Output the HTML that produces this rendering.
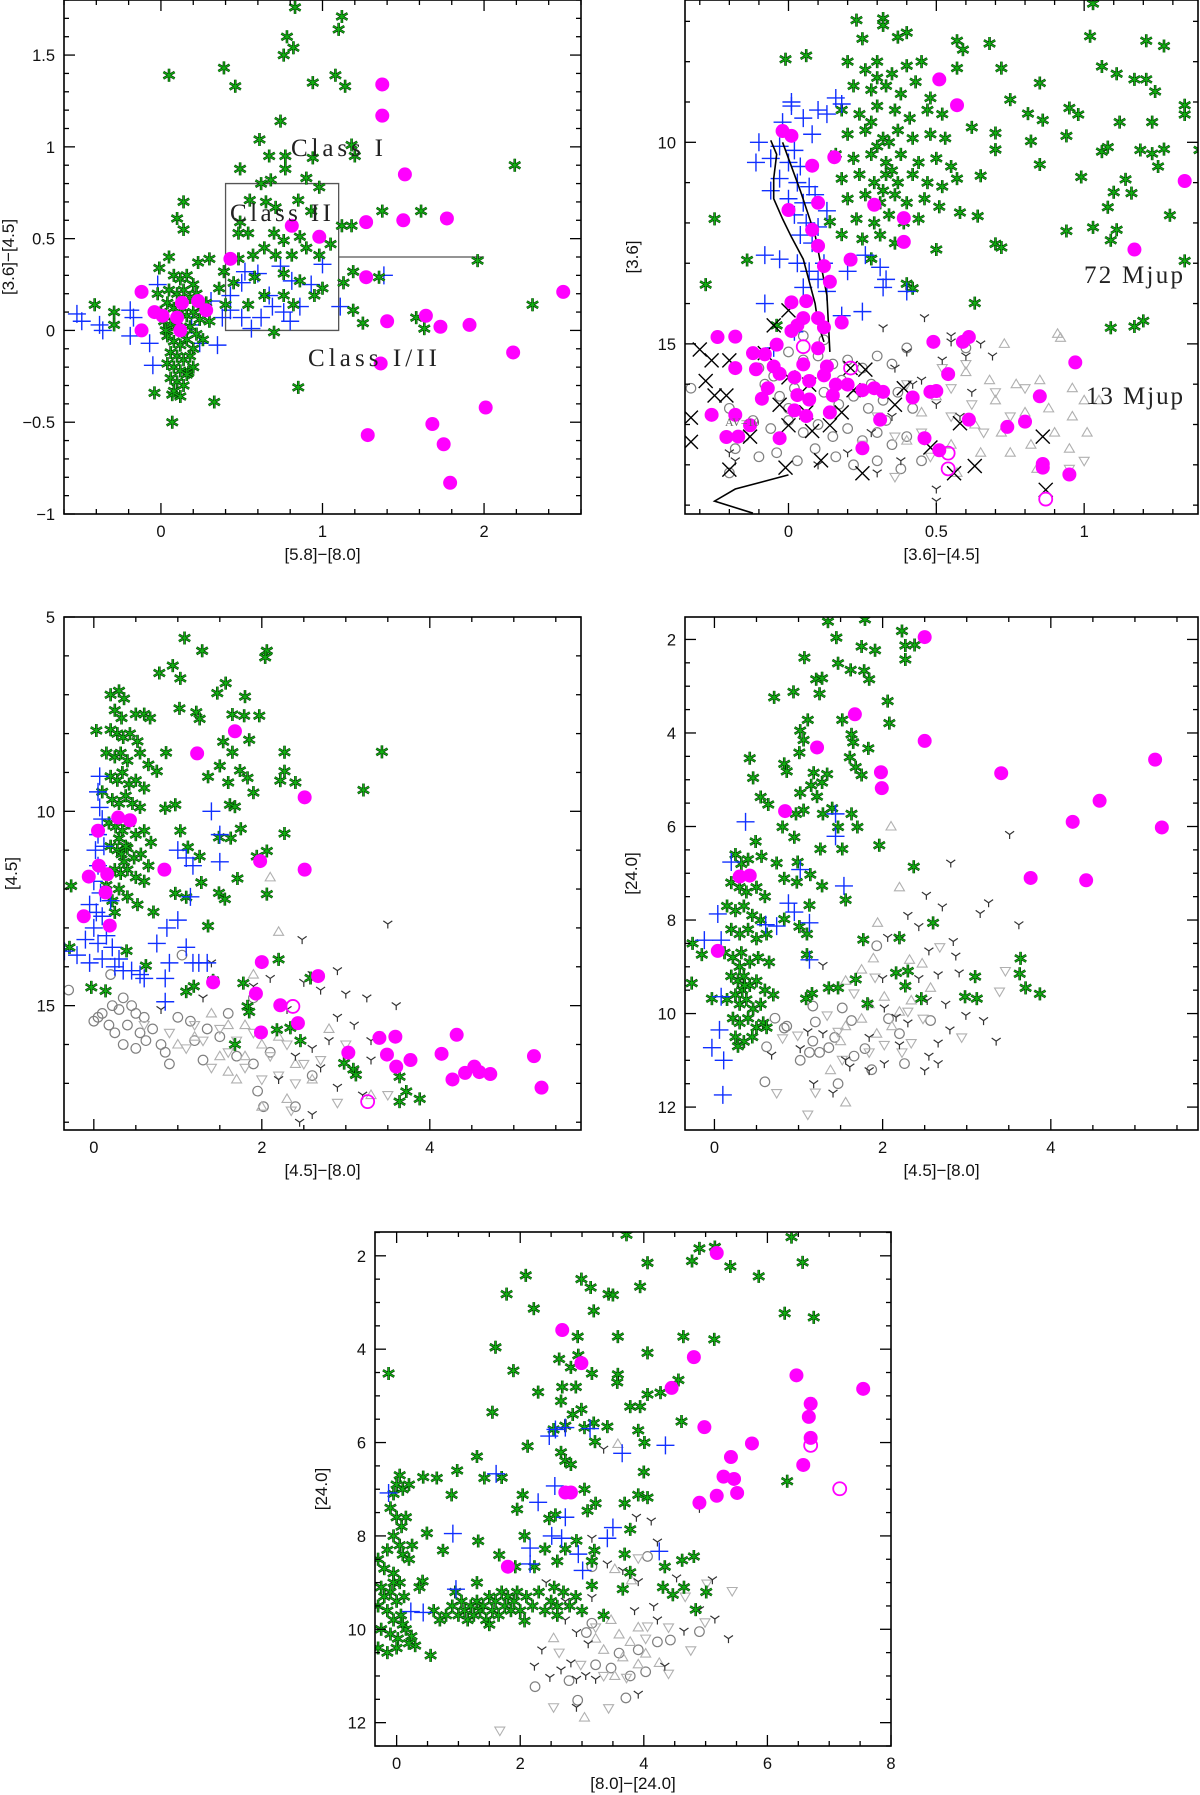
<!DOCTYPE html>
<html><head><meta charset="utf-8"><style>
html,body{margin:0;padding:0;background:#fff;}
svg{display:block;}
</style></head>
<body>
<svg id="fig" width="1200" height="1795" viewBox="0 0 1200 1795" xmlns="http://www.w3.org/2000/svg" font-family="Liberation Sans, sans-serif"></svg>
<script>
// ===== Panel 1: [5.8]-[8.0] vs [3.6]-[4.5] =====
const p1XTicks=[0,1,2];
const p1YTicks=[-1,-0.5,0,0.5,1,1.5];
const p1ClassI=[[-0.12,0.21],[-0.04,0.10],[0.01,0.08],[-0.12,0.0],[0.10,0.07],[0.13,0.15],[0.12,0.0],[0.23,0.16],[0.28,0.11],[0.43,0.39],[0.81,0.57],[0.98,0.51],[1.37,1.34],[1.37,1.17],[1.51,0.85],[1.27,0.59],[1.50,0.60],[1.77,0.61],[1.27,0.29],[1.40,0.05],[1.64,0.08],[1.73,0.02],[1.91,0.03],[2.49,0.21],[1.36,-0.18],[2.18,-0.12],[2.01,-0.42],[1.28,-0.57],[1.68,-0.51],[1.75,-0.62],[1.79,-0.83]];
const p1ClassII=[[0.83,1.76],[1.12,1.71],[1.10,1.64],[0.78,1.60],[0.76,1.50],[0.82,1.54],[0.05,1.39],[0.39,1.43],[0.46,1.33],[0.94,1.35],[1.08,1.39],[1.14,1.33],[0.74,1.14],[0.61,1.04],[0.67,0.95],[0.77,0.95],[0.49,0.88],[0.77,0.88],[0.94,0.94],[1.18,1.01],[1.20,0.95],[2.19,0.90],[0.68,0.82],[0.62,0.80],[0.90,0.83],[0.98,0.78],[0.55,0.71],[0.65,0.70],[0.85,0.71],[0.93,0.65],[0.71,0.67],[0.14,0.70],[0.10,0.61],[0.14,0.55],[0.49,0.59],[0.48,0.53],[0.54,0.53],[0.70,0.53],[0.76,0.49],[0.86,0.51],[1.05,0.47],[1.12,0.57],[1.18,0.57],[1.37,0.65],[1.61,0.65],[0.64,0.45],[0.71,0.41],[0.81,0.41],[0.90,0.45],[0.98,0.41],[0.57,0.41],[0.48,0.39],[1.96,0.38],[0.39,0.32],[0.45,0.26],[0.58,0.29],[0.76,0.31],[0.86,0.27],[1.00,0.23],[0.95,0.19],[1.19,0.32],[1.13,0.26],[1.35,0.29],[0.64,0.19],[0.76,0.19],[0.54,0.14],[0.40,0.14],[0.82,0.14],[1.19,0.11],[1.25,0.04],[1.58,0.07],[1.63,0.01],[2.30,0.14],[0.70,-0.01],[0.85,-0.31],[0.33,-0.39],[0.07,-0.50],[-0.41,0.14],[-0.29,0.10],[-0.29,0.03],[-0.01,0.34],[0.05,0.40],[0.30,0.39],[0.23,0.37],[0.36,0.23],[-0.04,-0.34],[0.07,-0.35],[0.17,-0.23],
[0.08,0.3],[0.12,0.28],[0.16,0.3],[0.2,0.25],[0.05,0.22],[0.1,0.2],[0.14,0.22],[0.18,0.18],[0.22,0.2],[0.04,0.15],[0.08,0.12],[0.12,0.1],[0.16,0.08],[0.2,0.1],[0.24,0.06],[0.02,0.05],[0.06,0.03],[0.1,0.02],[0.14,0.0],[0.18,0.02],[0.22,-0.02],[0.04,-0.03],[0.08,-0.06],[0.12,-0.08],[0.16,-0.05],[0.2,-0.1],[0.06,-0.12],[0.1,-0.14],[0.14,-0.16],[0.18,-0.14],[0.04,-0.18],[0.08,-0.2],[0.12,-0.22],[0.16,-0.24],[0.06,-0.26],[0.1,-0.28],[0.14,-0.3],[0.08,-0.33],[0.12,-0.36],[0.03,0.0],[0.25,0.12],[0.28,0.15],[0.3,0.05],[0.0,0.1],[-0.02,0.2],[0.2,-0.2],[0.26,-0.05]];
const p1Trans=[[-0.52,0.09],[-0.49,0.05],[-0.38,0.03],[-0.36,0.0],[-0.19,0.11],[-0.17,0.07],[-0.19,-0.03],[-0.07,-0.07],[-0.05,-0.19],[-0.02,0.25],[0.31,0.16],[0.35,-0.08],[0.38,0.07],[0.43,0.11],[0.50,0.07],[0.56,0.01],[0.62,0.07],[0.69,0.13],[0.76,0.10],[0.80,0.05],[0.86,0.13],[0.52,0.32],[0.60,0.31],[0.74,0.35],[0.81,0.27],[0.93,0.25],[1.0,0.36],[1.11,0.13],[1.38,0.30],[0.67,0.19],[0.19,0.03],[0.24,-0.07],[0.50,0.26],[0.43,0.19]];

// ===== Panel 2: [3.6]-[4.5] vs [3.6] =====
const p2XTicks=[0,0.5,1];
const p2YTicks=[10,15];
const p2ClassI=[[0.51,8.44],[0.57,9.08],[-0.02,9.72],[0.01,9.84],[0.155,10.37],[0.08,10.58],[1.34,10.96],[0.29,11.55],[0.10,11.5],[0.0,11.68],[0.39,11.88],[0.08,12.17],[0.39,12.47],[0.10,12.57],[0.21,12.91],[0.12,13.07],[1.17,12.66],[0.14,13.46],[0.01,13.97],[0.06,13.94],[0.05,14.36],[0.01,14.68],[0.03,14.54],[0.10,14.36],[0.12,14.59],[0.18,14.47],[-0.04,15.02],[-0.24,14.83],[-0.18,14.82],[0.10,15.11],[-0.12,15.23],[-0.08,15.26],[-0.18,15.6],[-0.11,15.63],[-0.05,15.56],[-0.03,15.74],[0.05,15.51],[0.13,15.56],[0.02,15.83],[0.07,15.92],[0.12,15.78],[0.16,16.01],[-0.07,16.1],[-0.09,16.36],[0.03,16.27],[0.07,16.38],[0.15,16.28],[0.2,16.01],[0.25,16.15],[0.29,16.1],[0.32,16.19],[0.42,16.33],[0.48,16.19],[0.50,16.17],[0.49,14.95],[0.59,14.95],[0.61,14.83],[0.54,15.75],[0.97,15.46],[0.85,16.3],[-0.26,16.76],[-0.18,16.76],[0.02,16.65],[0.06,16.79],[0.14,16.7],[0.31,16.88],[0.61,16.88],[0.74,17.06],[0.80,16.93],[-0.21,17.31],[-0.17,17.3],[-0.13,17.02],[-0.03,17.34],[0.25,17.59],[0.46,17.34],[0.51,17.64],[0.86,17.98],[0.86,18.07],[0.95,18.24]];
const p2ClassIOpen=[[0.05,15.07],[0.21,15.6],[0.54,17.71],[0.54,18.1],[0.87,18.85]];
const p2ClassII=[[0.23,6.97],[0.32,6.93],[0.32,7.1],[-0.01,7.94],[0.06,7.85],[0.25,7.43],[0.37,7.39],[0.40,7.28],[0.57,7.48],[0.68,7.55],[0.59,7.7],[0.72,8.16],[0.57,8.16],[1.03,6.56],[1.02,7.37],[1.21,7.48],[1.27,7.61],[1.06,8.12],[1.11,8.3],[1.17,8.44],[1.21,8.44],[1.24,8.74],[0.85,8.53],[0.75,8.94],[0.81,9.29],[0.86,9.45],[0.95,9.15],[0.98,9.31],[0.94,9.84],[0.82,9.97],[0.85,10.55],[1.06,10.23],[1.08,10.12],[1.12,9.5],[1.23,9.5],[1.19,10.19],[1.23,10.28],[1.25,10.6],[1.27,10.17],[1.34,9.08],[1.34,9.31],[1.39,10.19],[0.99,10.86],[1.14,10.92],[1.10,11.24],[1.16,11.26],[1.08,11.61],[1.29,11.81],[0.94,12.2],[1.03,12.11],[1.11,12.17],[1.09,12.43],[1.34,12.94],[0.70,9.77],[0.70,10.18],[0.62,9.63],[0.65,10.83],[0.58,11.74],[0.64,11.83],[0.70,12.52],[0.72,12.61],[0.50,12.66],[0.40,13.51],[0.42,13.62],[0.63,13.99],[1.09,14.6],[1.17,14.57],[1.20,14.43],[-0.25,11.9],[-0.14,12.92],[-0.28,13.53],[0.14,11.97],[0.18,12.29],[0.28,12.89],[-0.04,14.54],
[0.2,8.0],[0.26,8.2],[0.3,8.0],[0.35,8.3],[0.4,8.1],[0.45,8.0],[0.22,8.6],[0.28,8.7],[0.33,8.6],[0.38,8.8],[0.43,8.5],[0.48,8.9],[0.18,9.2],[0.24,9.3],[0.3,9.1],[0.36,9.2],[0.41,9.4],[0.47,9.2],[0.52,9.3],[0.2,9.8],[0.26,9.7],[0.32,9.9],[0.37,9.7],[0.42,9.9],[0.48,9.8],[0.53,9.9],[0.16,10.3],[0.22,10.4],[0.28,10.3],[0.33,10.5],[0.38,10.3],[0.44,10.5],[0.5,10.4],[0.55,10.6],[0.18,10.9],[0.24,10.8],[0.29,11.0],[0.33,10.8],[0.37,11.0],[0.42,10.8],[0.47,11.0],[0.52,11.1],[0.57,10.9],[0.2,11.4],[0.26,11.3],[0.31,11.5],[0.36,11.3],[0.4,11.5],[0.46,11.4],[0.51,11.6],[0.23,11.9],[0.29,12.0],[0.34,11.8],[0.39,12.0],[0.44,11.9],[0.25,12.4],[0.31,12.3],[0.36,12.5],[0.3,10.1],[0.34,10.0],[0.28,9.5],[0.35,10.7],[0.32,11.2],[0.3,8.4]];
const p2Trans=[[0.16,8.9],[0.18,9.05],[0.01,9.1],[0.1,9.2],[0.13,9.3],[-0.02,9.5],[0.05,9.4],[0.08,9.8],[-0.1,10.0],[-0.03,10.1],[0.02,10.2],[-0.06,10.4],[0.0,10.5],[0.04,10.6],[-0.11,10.5],[-0.03,10.9],[0.03,11.0],[0.07,11.1],[-0.06,11.2],[0.0,11.4],[0.05,11.5],[0.09,11.3],[0.13,11.7],[0.02,11.8],[0.06,12.0],[0.1,12.1],[0.04,12.3],[0.08,12.5],[-0.08,12.8],[-0.03,12.9],[0.03,13.0],[0.07,13.2],[0.1,13.4],[0.05,13.6],[0.13,13.7],[0.2,13.2],[0.26,12.8],[0.31,13.1],[0.33,13.4],[0.32,13.6],[0.4,13.7],[0.18,14.3],[0.25,14.2],[-0.08,14.0],[-0.05,15.1],[0.02,14.7],[0.12,13.0],[0.01,9.0]];
const p2Cross=[[-0.3,15.14],[-0.26,15.41],[-0.2,15.41],[-0.05,14.54],[0.0,14.17],[-0.08,15.23],[-0.28,15.92],[-0.25,16.28],[-0.21,16.28],[-0.33,16.83],[-0.33,17.43],[-0.2,18.12],[-0.13,17.3],[0.0,15.83],[0.07,16.01],[-0.03,16.51],[0.0,17.02],[0.06,16.7],[0.08,17.16],[0.14,17.02],[0.11,17.89],[-0.01,18.07],[0.21,15.6],[0.26,15.64],[0.22,16.15],[0.18,16.7],[0.25,18.21],[0.36,16.51],[0.39,16.1],[0.48,17.57],[0.56,18.21],[0.63,18.03],[0.58,16.97],[0.86,17.3],[0.87,18.62]];
const p2Circ=[[-0.33,16.1],[-0.1,15.6],[-0.05,15.8],[0.0,15.2],[0.05,15.4],[0.1,15.3],[0.15,15.5],[0.2,15.4],[0.25,15.6],[0.3,15.3],[0.35,15.5],[0.4,15.1],[-0.08,16.0],[-0.03,16.3],[0.02,16.1],[0.07,16.4],[0.12,16.2],[0.17,16.5],[0.22,16.3],[0.27,16.6],[0.32,16.4],[0.37,16.2],[0.42,16.6],[-0.12,16.9],[-0.06,17.1],[0.0,16.9],[0.05,17.2],[0.1,17.0],[0.15,17.3],[0.2,17.1],[0.25,17.4],[0.3,17.2],[0.35,17.5],[0.4,17.3],[-0.18,17.6],[-0.1,17.8],[-0.04,17.7],[0.03,17.9],[0.09,17.6],[0.16,17.8],[0.22,18.0],[0.3,17.9],[0.38,18.1],[-0.2,18.2],[0.05,14.8],[0.12,14.9],[0.18,15.9],[0.28,16.0],[0.0,16.6],[0.33,16.9],[-0.15,17.3],[0.45,17.9],[0.6,15.1],[-0.2,16.6]];
const p2TriUp=[[0.91,14.75],[0.92,14.85],[0.73,15.0],[0.6,15.7],[0.68,15.9],[0.77,16.0],[0.85,15.9],[0.96,16.1],[1.0,16.4],[1.05,16.4],[0.7,16.4],[0.8,16.7],[0.88,16.6],[0.96,16.8],[0.63,17.0],[0.72,17.2],[0.82,17.5],[0.9,17.2],[1.01,17.2],[0.55,17.5],[0.65,17.7],[0.75,17.7],[0.84,18.1],[0.95,17.6],[0.57,18.2],[0.4,17.4],[0.45,16.7],[0.5,16.3]];
const p2TriDown=[[0.52,15.6],[0.6,15.5],[0.55,16.1],[0.62,16.5],[0.7,16.2],[0.8,16.1],[0.55,16.8],[0.45,17.2],[0.36,17.3],[0.48,17.8],[0.36,18.3],[0.95,18.1],[1.0,17.9],[0.66,17.2],[0.4,16.0],[0.3,16.8],[0.25,17.5],[0.75,16.8]];
const p2Tri3=[[0.55,14.8],[0.46,14.35],[0.32,14.6],[0.55,14.95],[0.65,15.0],[0.69,15.3],[0.6,15.3],[0.52,15.4],[0.4,15.2],[0.36,15.6],[0.45,15.9],[0.5,16.5],[0.35,16.8],[0.28,17.2],[0.46,17.4],[0.38,17.9],[0.5,18.6],[0.5,18.9],[0.1,18.0],[-0.2,17.7],[-0.18,17.9],[0.58,16.8],[0.2,17.7],[0.3,18.2],[0.42,16.0],[0.62,16.2]];
const p2TrackA=[[-0.06,9.95],[-0.04,10.3],[-0.05,10.9],[-0.05,11.4],[-0.02,11.9],[0.01,12.35],[0.05,12.9],[0.07,13.45],[0.09,14.0],[0.1,14.5],[0.12,14.95]];
const p2TrackB=[[-0.02,10.0],[0.04,11.2],[0.09,12.3],[0.13,13.8],[0.14,15.2]];
const p2TrackC=[[0.0,18.25],[-0.18,18.6],[-0.25,18.9],[-0.12,19.2]];

// ===== Panel 3: [4.5]-[8.0] vs [4.5] =====
const p3XTicks=[0,2,4];
const p3YTicks=[5,10,15];
const p3ClassI=[[1.68,7.94],[1.23,8.51],[2.51,9.64],[0.29,10.16],[0.43,10.23],[0.05,10.5],[1.98,11.28],[2.51,11.5],[0.84,11.5],[0.06,11.4],[0.16,11.62],[-0.06,11.68],[0.14,12.09],[-0.12,12.7],[0.19,12.94],[2.0,13.88],[2.67,14.24],[1.42,14.4],[1.93,14.69],[2.22,14.99],[2.43,15.45],[1.99,15.69],[3.03,16.21],[3.4,15.83],[3.59,15.8],[3.49,16.26],[3.6,16.57],[3.77,16.4],[4.14,16.24],[4.32,15.75],[4.27,16.9],[4.42,16.73],[4.53,16.57],[4.59,16.71],[4.72,16.76],[5.24,16.3],[5.33,17.11]];
const p3ClassIOpen=[[2.37,15.02],[3.26,17.47]];
const p3ClassII=[[1.08,5.54],[1.29,5.87],[2.06,5.87],[2.04,6.04],[0.78,6.44],[0.94,6.25],[1.03,6.58],[1.47,6.96],[1.57,6.7],[1.8,7.05],[1.65,7.51],[1.79,7.54],[1.97,7.54],[1.02,7.35],[1.22,7.45],[1.26,7.62],[3.43,8.47],[1.85,8.16],[1.54,8.21],[1.65,8.48],[2.27,8.48],[2.27,8.97],[2.22,9.21],[2.4,9.26],[3.21,9.45],[1.5,8.83],[1.74,8.95],[1.83,9.14],[1.6,9.26],[1.36,9.11],[1.9,9.52],[2.27,10.57],[1.62,9.83],[1.68,9.88],[1.75,10.45],[1.63,10.69],[1.49,10.67],[2.06,11.02],[1.94,11.16],[1.71,11.73],[2.06,12.13],[1.49,12.1],[1.56,12.26],[1.36,12.95],[2.2,13.81],[1.19,14.5],[1.1,14.64],[1.78,14.42],[1.83,15.02],[1.85,15.16],[2.18,15.62],[2.34,15.57],[2.46,15.9],[1.68,16.0],[2.58,14.29],[2.98,16.48],[3.09,16.64],[3.12,16.78],[3.64,16.83],[3.72,17.21],[3.88,17.4],[3.64,17.47],[-0.03,14.53],[0.14,14.62],[-0.27,11.92],[-0.29,13.5],[0.03,7.92],[0.86,8.49],[0.75,8.97],[0.85,9.92],[0.97,9.83],[1.03,10.5],[1.12,10.92],[1.26,11.16],[1.28,11.83],[1.1,12.21],[0.97,12.11],[0.71,12.59],[0.39,13.59],[0.62,13.97],[1.42,14.35],
[0.2,7.0],[0.3,6.9],[0.36,7.1],[0.25,7.4],[0.33,7.6],[0.5,7.5],[0.6,7.5],[0.67,7.6],[0.2,7.9],[0.28,8.0],[0.35,8.1],[0.43,8.0],[0.52,8.2],[0.15,8.5],[0.25,8.6],[0.32,8.5],[0.4,8.7],[0.55,8.5],[0.65,8.8],[0.2,9.1],[0.28,9.2],[0.34,9.0],[0.42,9.3],[0.5,9.2],[0.6,9.4],[0.1,9.5],[0.22,9.7],[0.3,9.8],[0.38,9.6],[0.46,9.8],[0.55,9.9],[0.18,10.3],[0.26,10.4],[0.34,10.5],[0.42,10.3],[0.5,10.6],[0.6,10.5],[0.68,10.8],[0.2,10.9],[0.28,11.0],[0.33,11.1],[0.4,10.95],[0.48,11.2],[0.56,11.1],[0.65,11.4],[0.25,11.5],[0.32,11.6],[0.4,11.5],[0.5,11.7],[0.6,11.8],[0.3,12.0],[0.4,12.2],[0.52,12.4],[0.25,12.6],[0.36,11.3],[0.3,10.7],[0.38,10.9],[0.22,12.3],[0.15,11.9]];
const p3Trans=[[0.07,9.1],[0.05,9.5],[0.07,9.9],[0.1,10.2],[0.05,10.6],[0.02,11.0],[0.12,10.9],[0.05,11.4],[0.0,11.8],[0.08,12.1],[-0.05,12.4],[0.03,12.6],[0.1,12.7],[0.0,13.0],[-0.1,13.3],[0.05,13.4],[0.15,13.2],[-0.2,13.7],[-0.05,13.9],[0.1,13.8],[0.22,13.5],[0.25,14.0],[0.35,14.1],[0.45,14.1],[0.55,14.2],[0.6,14.3],[0.85,14.3],[0.9,13.9],[0.75,13.4],[0.87,13.0],[1.1,13.5],[1.18,13.9],[1.25,13.9],[1.35,13.9],[1.0,12.8],[1.15,12.2],[1.0,11.0],[1.1,11.2],[1.18,11.4],[1.5,11.3],[1.5,10.6],[1.4,10.0],[0.85,14.9],[0.2,12.3],[-0.35,13.6],[0.3,13.8]];
const p3Circ=[[-0.3,14.6],[0.1,15.2],[0.18,15.5],[0.0,15.4],[0.05,15.3],[0.22,15.0],[0.3,15.1],[0.35,14.8],[0.45,15.0],[0.5,15.2],[0.6,15.3],[0.7,15.6],[0.4,15.5],[0.25,15.7],[0.35,16.0],[0.5,16.1],[0.62,15.9],[0.8,16.0],[0.85,16.2],[1.0,15.3],[1.15,15.4],[1.2,15.9],[1.35,15.6],[1.5,15.8],[1.6,15.2],[1.7,16.3],[1.9,16.5],[2.1,16.2],[2.6,16.8],[1.95,17.2],[2.4,17.6],[0.9,16.5],[1.3,16.4],[2.02,17.6],[0.55,15.7],[1.9,14.8],[1.05,13.7],[0.2,14.2]];
const p3TriUp=[[2.1,11.7],[2.2,13.1],[1.9,14.2],[2.8,15.6],[3.3,17.3],[1.4,15.2],[1.6,15.5],[1.8,15.5],[2.0,16.0],[2.2,15.8],[2.4,16.5],[1.5,16.3],[1.7,16.9],[2.0,17.6],[2.3,17.4],[1.2,15.8],[1.0,16.0],[1.8,16.3],[2.6,16.9],[1.6,16.7]];
const p3TriDown=[[0.6,15.5],[0.9,15.7],[1.2,15.5],[1.3,15.9],[1.5,15.6],[1.7,15.9],[1.9,15.7],[2.1,16.3],[2.3,16.0],[2.5,16.5],[1.4,16.6],[1.6,16.2],[1.8,16.6],[2.0,16.9],[2.2,16.8],[2.4,17.0],[2.9,17.5],[3.5,17.3],[2.7,16.4],[3.0,16.0],[2.35,17.7],[1.1,16.1]];
const p3Tri3=[[2.6,14.2],[2.5,14.4],[2.7,14.6],[2.9,14.1],[3.0,14.7],[3.25,14.8],[3.6,15.0],[2.9,15.3],[3.1,15.5],[2.8,15.9],[2.6,16.1],[2.4,16.3],[2.7,16.6],[3.1,16.7],[2.9,17.1],[3.3,16.4],[3.2,17.3],[2.6,17.8],[2.45,18.0],[2.2,16.9],[1.9,14.5],[2.1,14.3],[1.4,13.9],[2.48,13.3],[3.5,12.9],[1.3,14.8],[0.8,15.1],[2.3,15.1],[3.3,15.9]];

// ===== Panel 4: [4.5]-[8.0] vs [24.0] =====
const p4XTicks=[0,2,4];
const p4YTicks=[2,4,6,8,10,12];
const p4ClassI=[[2.5,1.95],[1.67,3.6],[1.22,4.31],[2.5,4.17],[5.24,4.57],[1.98,4.84],[1.99,5.18],[3.41,4.86],[4.58,5.45],[0.84,5.67],[4.26,5.9],[5.32,6.02],[3.76,7.1],[4.42,7.15],[0.3,7.07],[0.42,7.05],[0.04,8.66]];
const p4ClassII=[[1.35,1.62],[1.79,1.57],[1.45,1.96],[1.07,2.39],[1.75,2.15],[1.91,2.23],[2.23,1.82],[2.27,2.13],[2.38,2.12],[2.27,2.43],[1.47,2.51],[1.62,2.65],[1.78,2.67],[1.84,2.85],[1.21,2.85],[1.28,2.83],[1.25,3.16],[0.94,3.12],[0.71,3.24],[2.06,3.32],[2.08,3.79],[1.11,3.72],[1.52,3.72],[1.02,3.95],[1.06,4.15],[1.63,4.03],[1.65,4.2],[1.83,4.33],[1.01,4.42],[1.61,4.52],[1.68,4.73],[1.75,4.9],[0.42,4.54],[0.83,4.66],[0.86,4.82],[0.46,4.96],[1.18,4.85],[1.28,5.06],[1.34,4.88],[1.15,5.12],[1.02,5.28],[1.22,5.36],[0.55,5.37],[0.64,5.53],[1.06,5.65],[0.97,5.73],[1.29,5.73],[1.4,5.61],[1.63,5.73],[1.7,6.01],[1.47,6.01],[1.52,6.48],[1.96,6.4],[2.37,6.86],[0.81,6.01],[0.95,6.23],[1.26,6.48],[0.49,6.32],[0.56,6.64],[0.74,6.78],[0.99,6.76],[1.14,7.03],[0.83,7.11],[0.98,7.19],[1.28,7.27],[1.56,7.57],[1.13,7.68],[1.01,8.14],[0.83,7.98],[1.1,8.3],[1.1,8.74],[1.77,8.42],[2.2,8.38],[2.6,8.06],[2.16,9.13],[2.3,9.09],[2.27,9.41],[2.46,9.68],[1.68,9.27],[1.82,9.79],[1.36,9.45],[1.47,9.45],[1.16,9.57],[1.09,9.68],[3.1,9.21],[2.98,9.64],[3.12,9.68],[3.64,8.82],[3.63,9.15],[3.7,9.45],[3.87,9.58],[-0.26,8.5],[-0.15,8.74],[-0.27,9.35],[-0.03,9.68],
[0.25,6.6],[0.32,6.8],[0.4,6.7],[0.2,7.2],[0.3,7.3],[0.38,7.4],[0.5,7.3],[0.6,7.5],[0.15,7.7],[0.25,7.8],[0.35,7.7],[0.45,7.9],[0.55,8.0],[0.2,8.2],[0.3,8.3],[0.4,8.2],[0.5,8.4],[0.62,8.3],[0.12,8.7],[0.22,8.8],[0.32,8.7],[0.42,8.9],[0.52,8.8],[0.65,8.9],[0.2,9.2],[0.28,9.3],[0.35,9.2],[0.42,9.4],[0.5,9.3],[0.6,9.5],[0.7,9.6],[0.25,9.6],[0.3,9.8],[0.38,9.7],[0.46,9.9],[0.55,9.8],[0.15,9.7],[0.22,10.1],[0.3,10.2],[0.4,10.1],[0.5,10.3],[0.58,10.2],[0.25,10.5],[0.35,10.6],[0.45,10.5],[0.33,9.5],[0.36,9.4],[0.3,9.0],[0.28,10.7],[0.62,10.3]];
const p4Trans=[[0.37,5.9],[0.2,6.76],[1.02,6.92],[1.54,7.27],[1.44,6.21],[1.44,5.73],[0.88,7.64],[0.95,7.83],[0.61,8.1],[0.74,8.13],[1.13,8.06],[-0.12,8.43],[0.08,8.43],[1.13,8.85],[0.06,10.35],[-0.03,10.73],[0.11,11.0],[0.1,11.74],[0.04,7.87],[0.08,9.64]];
const p4Circ=[[1.93,8.55],[0.72,10.1],[0.83,10.31],[0.86,10.27],[0.62,10.71],[1.17,9.84],[1.2,10.18],[1.17,10.59],[1.13,10.83],[1.25,10.83],[1.36,10.73],[1.02,11.0],[0.6,11.46],[1.47,11.5],[1.43,10.51],[1.52,9.88],[1.63,10.15],[1.79,10.75],[1.87,11.2],[2.26,11.07],[2.57,10.15],[2.07,10.11],[1.66,10.91],[2.2,10.43]];
const p4TriUp=[[2.1,6.0],[2.2,7.3],[1.94,8.06],[1.89,8.82],[1.75,9.06],[1.56,9.3],[2.02,9.64],[2.32,8.85],[2.47,8.93],[2.57,9.45],[2.2,9.96],[2.34,9.72],[1.56,10.27],[1.75,10.11],[1.93,10.43],[2.11,10.27],[1.38,11.21],[1.56,11.9],[1.5,10.59],[1.84,9.8]];
const p4TriDown=[[2.68,8.58],[1.91,9.23],[1.66,9.57],[3.39,9.53],[3.46,9.09],[2.94,10.51],[0.81,10.53],[0.99,10.47],[1.34,10.04],[1.47,10.39],[1.52,10.99],[1.84,10.83],[2.02,10.67],[2.23,10.83],[2.34,10.63],[1.11,12.16],[0.74,11.7],[1.2,11.69],[2.3,9.96],[2.48,10.11]];
const p4Tri3=[[3.51,6.17],[2.81,6.78],[2.52,7.47],[2.71,7.72],[2.3,7.9],[3.16,7.86],[3.26,7.63],[3.62,8.1],[2.06,8.37],[2.2,8.42],[2.43,8.14],[2.55,8.66],[2.84,8.46],[2.87,8.77],[2.91,9.13],[2.66,9.17],[2.43,9.25],[1.29,8.97],[2.0,9.25],[2.02,9.88],[2.16,10.08],[2.3,10.2],[2.53,9.72],[2.75,9.8],[2.99,10.04],[3.2,10.15],[2.8,10.35],[2.66,10.63],[2.55,10.91],[2.5,11.22],[2.66,11.07],[2.2,10.67],[2.02,11.07],[1.84,10.51],[1.56,10.99],[1.29,10.43],[1.11,10.39],[1.02,10.75],[0.68,10.89],[1.18,11.5],[1.41,11.7],[3.35,10.59],[1.84,11.22],[1.61,11.14]];

// ===== Panel 5: [8.0]-[24.0] vs [24.0] =====
const p5XTicks=[0,2,4,6,8];
const p5YTicks=[2,4,6,8,10,12];
const p5ClassI=[[5.18,1.94],[2.68,3.59],[2.99,4.3],[4.81,4.17],[4.45,4.83],[6.47,4.56],[7.55,4.85],[6.7,5.17],[6.67,5.45],[4.98,5.67],[6.7,5.9],[5.75,6.02],[5.41,6.31],[6.58,6.48],[5.29,6.73],[5.46,6.78],[5.18,7.14],[5.51,7.08],[4.9,7.29],[2.73,7.07],[2.82,7.07],[1.8,8.66]];
const p5ClassIOpen=[[6.7,6.06],[7.17,6.99]];
const p5ClassII=[[-0.13,4.52],[2.09,2.42],[1.78,2.82],[2.22,3.13],[2.99,2.5],[3.14,2.68],[3.19,3.18],[3.43,2.82],[3.5,2.84],[3.94,2.66],[4.06,2.15],[3.72,1.55],[4.9,1.84],[4.78,2.11],[5.15,1.81],[5.4,2.23],[5.86,2.44],[6.39,1.6],[6.57,2.14],[6.28,3.23],[6.75,3.32],[6.32,6.83],[1.6,3.96],[1.89,4.46],[2.93,3.73],[3.58,3.73],[4.64,3.73],[5.14,3.79],[4.06,4.08],[2.63,4.21],[2.94,4.13],[3.16,4.52],[2.82,4.39],[3.58,4.54],[3.57,4.71],[4.56,4.66],[2.29,4.92],[2.68,4.81],[2.9,4.81],[2.66,5.11],[4.06,4.97],[4.27,4.93],[3.78,5.23],[3.94,5.23],[2.99,5.29],[2.85,5.4],[2.73,5.64],[3.04,5.68],[3.19,5.58],[3.41,5.66],[2.54,5.72],[4.61,5.55],[1.55,5.35],[3.91,5.74],[4.01,6.0],[3.21,5.98],[2.12,6.08],[2.66,6.21],[2.73,6.39],[2.82,6.47],[4.0,6.63],[1.3,6.3],[0.98,6.6],[0.65,6.76],[0.43,6.74],[1.42,6.76],[1.7,6.75],[2.04,7.12],[1.95,7.43],[0.89,7.12],[3.04,7.0],[3.22,7.3],[3.09,7.46],[3.69,7.3],[3.91,7.12],[4.06,7.18],[2.47,7.63],[2.57,7.55],[2.91,8.1],[3.78,7.86],[2.07,8.0],[0.49,7.94],[0.75,8.31],[1.32,8.11],[1.66,8.41],[1.92,8.66],[2.23,8.66],[2.4,8.28],[2.6,8.54],[2.73,8.28],[3.2,8.31],[3.16,8.54],[3.69,8.39],[4.34,8.66],[4.62,8.52],[4.81,8.44],[3.78,8.78],[0.42,8.97],[0.37,9.1],[3.16,9.06],[3.66,9.14],[4.31,9.1],[4.65,9.1],[5.01,9.2],[4.84,9.58],[4.47,9.26],[3.35,9.7],[2.6,9.51],[2.07,9.82],[0.55,10.56],[0.24,10.15],[0.3,10.35],
[0.6,9.6],[0.7,9.8],[0.8,9.7],[0.9,9.5],[1.0,9.7],[1.05,9.4],[1.1,9.6],[1.15,9.8],[1.2,9.5],[1.25,9.7],[1.3,9.4],[1.35,9.6],[1.4,9.5],[1.45,9.8],[1.5,9.3],[1.55,9.6],[1.6,9.4],[1.65,9.7],[1.7,9.2],[1.75,9.5],[1.8,9.3],[1.85,9.6],[1.9,9.4],[1.95,9.2],[2.0,9.6],[2.1,9.3],[2.2,9.5],[2.3,9.2],[2.4,9.6],[2.5,9.4],[2.6,9.7],[2.7,9.2],[2.8,9.5],[2.9,9.3],[3.0,9.6],[1.3,9.0],[0.95,9.2],[1.5,9.9],[2.55,9.1],
[0.05,6.7],[0.0,6.9],[-0.05,7.1],[0.1,7.0],[0.2,6.9],[-0.1,7.4],[0.0,7.6],[0.08,7.8],[0.15,7.6],[-0.05,8.0],[0.05,8.2],[-0.15,8.3],[0.1,8.4],[0.2,8.5],[-0.2,8.7],[-0.05,8.8],[0.05,9.0],[-0.25,9.1],[-0.1,9.2],[0.0,9.4],[0.12,9.3],[-0.3,9.5],[-0.15,9.6],[-0.05,9.8],[0.07,9.7],[-0.25,10.0],[-0.1,10.1],[0.02,10.2],[0.15,10.0],[-0.3,10.4],[-0.15,10.5],[0.0,10.4],[0.2,10.3],[-0.2,9.3],[-0.3,8.5],[0.25,8.2],[-0.05,9.0],[0.1,9.9]];
const p5Trans=[[-0.13,7.08],[0.23,9.62],[0.43,9.64],[0.91,7.95],[1.61,6.67],[2.29,7.28],[2.47,5.86],[2.57,5.72],[2.73,5.68],[3.13,5.7],[2.56,6.93],[2.73,7.6],[2.16,8.26],[2.16,8.6],[2.51,8.0],[2.67,8.05],[2.94,8.39],[3.01,8.74],[3.41,8.05],[3.5,7.82],[3.65,6.23],[4.35,6.06],[4.25,8.33],[0.96,9.14]];
const p5Circ=[[2.24,11.23],[2.79,11.1],[2.93,11.52],[3.71,11.47],[3.16,9.87],[3.47,10.83],[3.78,11.0],[4.06,8.44],[4.22,10.27],[4.43,10.23],[4.9,10.05],[3.07,10.07],[3.22,10.76],[3.16,8.66],[3.91,10.44],[4.03,10.91],[3.6,10.51]];
const p5TriUp=[[3.58,6.03],[3.53,8.71],[3.8,8.95],[3.04,11.89],[2.54,10.19],[3.47,9.8],[3.6,10.11],[3.78,10.27],[3.91,9.96],[3.35,10.44],[3.66,10.6],[3.91,10.75],[4.03,10.52],[4.25,10.72],[3.22,10.2],[3.53,11.0]];
const p5TriDown=[[1.67,12.17],[2.54,11.67],[3.43,11.69],[2.63,10.5],[2.98,10.76],[3.91,8.48],[5.43,9.18],[5.02,9.02],[4.99,9.85],[4.67,9.3],[4.4,10.95],[4.76,10.45],[4.4,9.96],[4.06,9.94],[4.03,10.2],[3.22,9.96],[3.72,11.04],[3.35,11.0]];
const p5Tri3=[[3.35,6.14],[3.88,7.6],[4.12,7.68],[3.16,8.05],[4.22,8.13],[3.41,8.6],[3.66,8.74],[3.91,8.98],[4.53,8.9],[5.11,8.94],[2.42,9.0],[2.73,9.4],[3.16,9.32],[2.73,9.8],[2.91,10.07],[3.1,10.31],[2.82,10.72],[2.66,10.87],[2.35,10.44],[2.23,10.79],[2.48,11.03],[2.91,11.07],[3.06,10.99],[3.22,11.07],[3.91,11.39],[2.91,11.67],[5.37,10.2],[4.65,10.04],[4.34,10.79],[4.9,9.58],[5.15,9.78],[4.16,9.51],[3.85,9.6],[4.9,7.41],[4.22,9.8]];

// ===== drawing =====
const NS='http://www.w3.org/2000/svg';
const svg=document.getElementById('fig');
function el(tag,attrs,parent){const e=document.createElementNS(NS,tag);for(const k in attrs)e.setAttribute(k,attrs[k]);(parent||svg).appendChild(e);return e;}
function fmt(v){return (v<0?'\u2212':'')+String(Math.abs(v));}

function makePanel(id,c){
  const g=el('g',{});
  
  
  const sx=v=>c.x0+(v-c.xmin)/(c.xmax-c.xmin)*(c.x1-c.x0);
  const sy=c.invert? (v=>c.y0+(v-c.ymin)/(c.ymax-c.ymin)*(c.y1-c.y0)) : (v=>c.y1-(v-c.ymin)/(c.ymax-c.ymin)*(c.y1-c.y0));
  const clip=el('clipPath',{id:'clip-'+id},g);
  el('rect',{x:c.x0,y:c.y0,width:c.x1-c.x0,height:c.y1-c.y0},clip);
  const plot=el('g',{'clip-path':'url(#clip-'+id+')'},g);
  
  
  return {g,plot,sx,sy,c};
}
function drawAxes(P,xTicks,yTicks,xTitle,yTitle,xTitleY,yTitleX){
  const {g,sx,sy,c}=P;
  const ax=el('g',{stroke:'#000','stroke-width':1.3,fill:'none'},g);
  
  
  const eps=1e-6;
  for(let v=Math.ceil((c.xmin)/c.xMinor-eps)*c.xMinor; v<=c.xmax+eps; v+=c.xMinor){
    const vv=Math.round(v*1000)/1000;const x=sx(vv);
    const major=Math.abs(vv/c.xMajor-Math.round(vv/c.xMajor))<1e-6;
    const L=major?11:5;
    el('line',{x1:x,x2:x,y1:c.y1,y2:c.y1-L},ax);
    el('line',{x1:x,x2:x,y1:c.y0,y2:c.y0+L},ax);
  }
  const ylo=Math.min(c.ymin,c.ymax), yhi=Math.max(c.ymin,c.ymax);
  for(let v=Math.ceil(ylo/c.yMinor-eps)*c.yMinor; v<=yhi+eps; v+=c.yMinor){
    const vv=Math.round(v*1000)/1000;const y=sy(vv);
    const major=Math.abs(vv/c.yMajor-Math.round(vv/c.yMajor))<1e-6;
    const L=major?11:5;
    el('line',{x1:c.x0,x2:c.x0+L,y1:y,y2:y},ax);
    el('line',{x1:c.x1,x2:c.x1-L,y1:y,y2:y},ax);
  }
  const frame=el('rect',{x:c.x0,y:c.y0,width:c.x1-c.x0,height:c.y1-c.y0,fill:'none',stroke:'#000','stroke-width':1.6},g);
  
  
  xTicks.forEach(v=>{
    const t=el('text',{x:sx(v),y:c.y1+23,'font-size':16.5,'text-anchor':'middle',fill:'#111'},g);
    t.textContent=fmt(v);
    
    
  });
  yTicks.forEach(v=>{
    const t=el('text',{x:c.x0-9,y:sy(v)+6,'font-size':16.5,'text-anchor':'end',fill:'#111'},g);
    t.textContent=fmt(v);
    
    
  });
  const xt=el('text',{x:(c.x0+c.x1)/2,y:xTitleY,'font-size':17,'text-anchor':'middle',fill:'#111'},g);
  xt.textContent=xTitle;
  
  
  const yc=(c.y0+c.y1)/2;
  const yt=el('text',{x:yTitleX,y:yc,'font-size':17,'text-anchor':'middle',fill:'#111',transform:'rotate(-90 '+yTitleX+' '+yc+')'},g);
  yt.textContent=yTitle;
  
  
}
function series(P,data,kind,name){
  const {plot,sx,sy}=P;
  const g=el('g',{},plot);
  
  
  data.forEach(d=>{
    const x=sx(d[0]),y=sy(d[1]);let m;
    if(kind==='filled'){m=el('circle',{cx:x,cy:y,r:7,fill:'#ff00ff'},g);}
    else if(kind==='open'){m=el('circle',{cx:x,cy:y,r:6.5,fill:'none',stroke:'#ff00ff','stroke-width':1.8},g);}
    else if(kind==='circle'){m=el('circle',{cx:x,cy:y,r:4.8,fill:'none',stroke:'#808080','stroke-width':1.2},g);}
    else if(kind==='star'){const s=6.5,a=s*0.87,b=s*0.5;const dd=`M${x} ${y-s}V${y+s}M${x-a} ${y-b}L${x+a} ${y+b}M${x-a} ${y+b}L${x+a} ${y-b}`;
      m=el('g',{},g);
      el('path',{d:dd,stroke:'#063306','stroke-width':2.6,fill:'none'},m);
      el('path',{d:dd,stroke:'#11b011','stroke-width':1.3,fill:'none'},m);}
    else if(kind==='plus'){const s=9;m=el('path',{d:`M${x-s} ${y}H${x+s}M${x} ${y-s}V${y+s}`,stroke:'#1030ff','stroke-width':1.4,fill:'none'},g);}
    else if(kind==='cross'){const s=7;m=el('path',{d:`M${x-s} ${y-s}L${x+s} ${y+s}M${x-s} ${y+s}L${x+s} ${y-s}`,stroke:'#000','stroke-width':1.4,fill:'none'},g);}
    else if(kind==='triup'){const s=5;m=el('path',{d:`M${x} ${y-s}L${x+s} ${y+s*0.7}L${x-s} ${y+s*0.7}Z`,stroke:'#b0b0b0','stroke-width':1.1,fill:'none'},g);}
    else if(kind==='tridown'){const s=5;m=el('path',{d:`M${x} ${y+s}L${x+s} ${y-s*0.7}L${x-s} ${y-s*0.7}Z`,stroke:'#b0b0b0','stroke-width':1.1,fill:'none'},g);}
    else if(kind==='y'){const s=4.5;m=el('path',{d:`M${x} ${y}V${y+s}M${x} ${y}L${x-s} ${y-s*0.7}M${x} ${y}L${x+s} ${y-s*0.7}`,stroke:'#333','stroke-width':1.2,fill:'none'},g);}
    
    
  });
}
function polyline(P,pts,name){
  const d=pts.map((p,i)=>(i?'L':'M')+P.sx(p[0])+' '+P.sy(p[1])).join('');
  const l=el('path',{d:d,stroke:'#000','stroke-width':1.6,fill:'none'},P.plot);
  
  
}
function label(P,x,y,txt,size,name,opts){
  const t=el('text',Object.assign({x:x,y:y,'font-size':size,fill:'#222',style:'font-family:"Liberation Serif",serif'},opts||{}),P.g);
  t.textContent=txt;
  
  
}

// Panel 1
const P1=makePanel('panel-1',{x0:64,x1:581,y0:0,y1:514,xmin:-0.6,xmax:2.6,ymin:-1,ymax:1.8,invert:false,xMinor:0.2,xMajor:1,yMinor:0.1,yMajor:0.5});
(function(){
  const {plot,sx,sy}=P1;
  const b=el('path',{d:`M${sx(0.4)} ${sy(0)}H${sx(1.1)}V${sy(0.8)}H${sx(0.4)}Z M${sx(1.1)} ${sy(0.4)}H${sx(2.0)}`,stroke:'#555','stroke-width':1.3,fill:'none'},plot);
  
  
})();
series(P1,p1Trans,'plus','transition-disks');
series(P1,p1ClassII,'star','class-ii');
series(P1,p1ClassI,'filled','class-i');
label(P1,291,156,'Class  I',25,'class-i-label',{textLength:92});
label(P1,230,221,'Class II',25,'class-ii-label',{textLength:101});
label(P1,308,366,'Class I/II',25,'class-i-ii-label',{textLength:129});
drawAxes(P1,p1XTicks,p1YTicks,'[5.8]\u2212[8.0]','[3.6]\u2212[4.5]',560,14);

// Panel 2
const P2=makePanel('panel-2',{x0:685,x1:1198,y0:0,y1:514,xmin:-0.35,xmax:1.385,ymin:6.47,ymax:19.22,invert:true,xMinor:0.1,xMajor:0.5,yMinor:1,yMajor:5});
series(P2,p2Circ,'circle','photospheric-circles');
series(P2,p2TriUp,'triup','field-triangles-up');
series(P2,p2TriDown,'tridown','field-triangles-down');
series(P2,p2Tri3,'y','field-tripods');
series(P2,p2ClassII,'star','class-ii');
series(P2,p2Trans,'plus','transition-disks');
series(P2,p2Cross,'cross','candidates-x');
polyline(P2,p2TrackA,'isochrone-a');
polyline(P2,p2TrackB,'isochrone-b');
polyline(P2,p2TrackC,'reddening-track');
series(P2,p2ClassI,'filled','class-i');
series(P2,p2ClassIOpen,'open','class-i-open');
label(P2,1084,283,'72 Mjup',25,'label-72-mjup',{textLength:99});
label(P2,1086,404,'13 Mjup',25,'label-13-mjup',{textLength:97});
label(P2,725,426,'AV=10',12,'av-label',{fill:'#666'});
drawAxes(P2,p2XTicks,p2YTicks,'[3.6]\u2212[4.5]','[3.6]',560,638);

// Panel 3
const P3=makePanel('panel-3',{x0:64,x1:581,y0:617,y1:1130,xmin:-0.355,xmax:5.8,ymin:5,ymax:18.2,invert:true,xMinor:0.5,xMajor:2,yMinor:1,yMajor:5});
series(P3,p3Circ,'circle','photospheric-circles');
series(P3,p3TriUp,'triup','field-triangles-up');
series(P3,p3TriDown,'tridown','field-triangles-down');
series(P3,p3Tri3,'y','field-tripods');
series(P3,p3ClassII,'star','class-ii');
series(P3,p3Trans,'plus','transition-disks');
series(P3,p3ClassI,'filled','class-i');
series(P3,p3ClassIOpen,'open','class-i-open');
drawAxes(P3,p3XTicks,p3YTicks,'[4.5]\u2212[8.0]','[4.5]',1176,17);

// Panel 4
const P4=makePanel('panel-4',{x0:685,x1:1198,y0:617,y1:1130,xmin:-0.35,xmax:5.75,ymin:1.52,ymax:12.49,invert:true,xMinor:0.5,xMajor:2,yMinor:0.5,yMajor:2});
series(P4,p4Circ,'circle','photospheric-circles');
series(P4,p4TriUp,'triup','field-triangles-up');
series(P4,p4TriDown,'tridown','field-triangles-down');
series(P4,p4Tri3,'y','field-tripods');
series(P4,p4ClassII,'star','class-ii');
series(P4,p4Trans,'plus','transition-disks');
series(P4,p4ClassI,'filled','class-i');
drawAxes(P4,p4XTicks,p4YTicks,'[4.5]\u2212[8.0]','[24.0]',1176,637);

// Panel 5
const P5=makePanel('panel-5',{x0:375,x1:891,y0:1232,y1:1746,xmin:-0.35,xmax:8,ymin:1.49,ymax:12.5,invert:true,xMinor:0.5,xMajor:2,yMinor:0.5,yMajor:2});
series(P5,p5Circ,'circle','photospheric-circles');
series(P5,p5TriUp,'triup','field-triangles-up');
series(P5,p5TriDown,'tridown','field-triangles-down');
series(P5,p5Tri3,'y','field-tripods');
series(P5,p5ClassII,'star','class-ii');
series(P5,p5Trans,'plus','transition-disks');
series(P5,p5ClassI,'filled','class-i');
series(P5,p5ClassIOpen,'open','class-i-open');
drawAxes(P5,p5XTicks,p5YTicks,'[8.0]\u2212[24.0]','[24.0]',1789,327);
</script>
</body></html>
